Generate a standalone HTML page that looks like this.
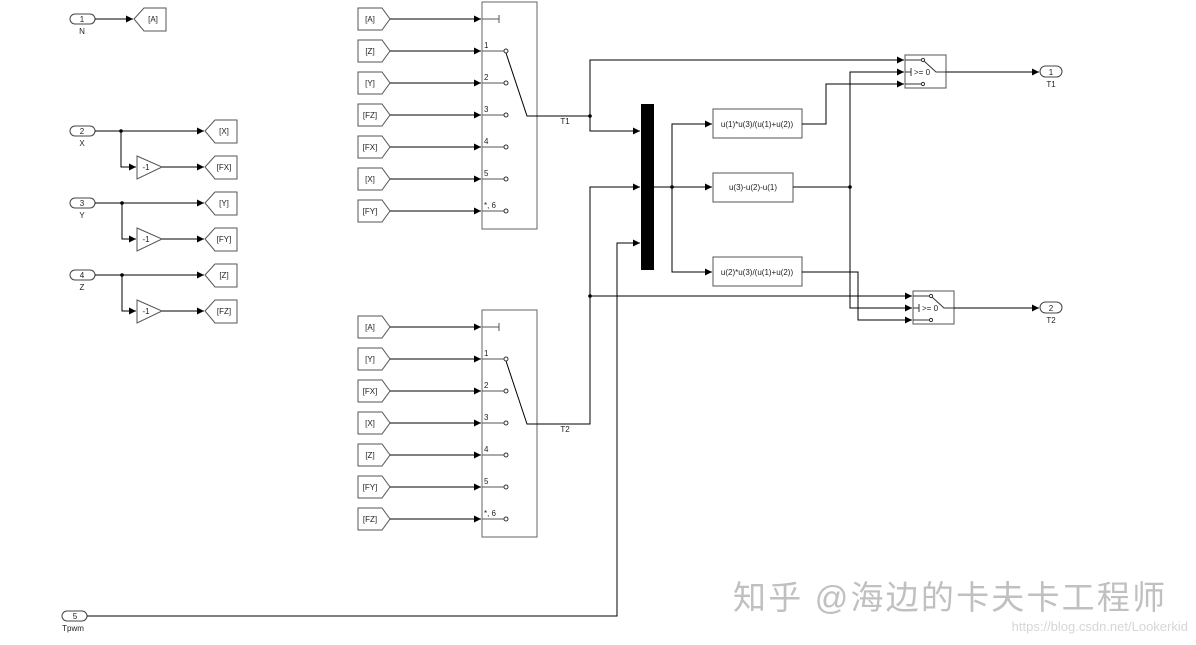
<!DOCTYPE html>
<html><head><meta charset="utf-8"><style>
html,body{margin:0;padding:0;background:#fff;}
svg{display:block;}
text{font-family:"Liberation Sans",sans-serif;font-size:8px;fill:#222;}
</style></head><body>
<svg width="1196" height="645" viewBox="0 0 1196 645" xmlns="http://www.w3.org/2000/svg">
<defs>
<marker id="a" markerWidth="8" markerHeight="8" refX="7" refY="3.5" orient="auto" markerUnits="userSpaceOnUse"><path d="M0,0 L7,3.5 L0,7 z" fill="#000"/></marker>
</defs>
<g fill="none" stroke="#000" stroke-width="1">
<rect x="70" y="14" width="25" height="10" rx="5" stroke="#444"/>
<rect x="70" y="126" width="25" height="10" rx="5" stroke="#444"/>
<rect x="70" y="198" width="25" height="10" rx="5" stroke="#444"/>
<rect x="70" y="270" width="25" height="10" rx="5" stroke="#444"/>
<rect x="62" y="611" width="25" height="10" rx="5" stroke="#444"/>
<path d="M134,19 L144,8 L166,8 L166,31 L144,31 Z" stroke="#555"/>
<path d="M205,131 L215,120 L237,120 L237,143 L215,143 Z" stroke="#555"/>
<path d="M205,167 L215,156 L237,156 L237,179 L215,179 Z" stroke="#555"/>
<path d="M205,203 L215,192 L237,192 L237,215 L215,215 Z" stroke="#555"/>
<path d="M205,239 L215,228 L237,228 L237,251 L215,251 Z" stroke="#555"/>
<path d="M205,275 L215,264 L237,264 L237,287 L215,287 Z" stroke="#555"/>
<path d="M205,311 L215,300 L237,300 L237,323 L215,323 Z" stroke="#555"/>
<path d="M137,156 L162,167 L137,179 Z" stroke="#555"/>
<path d="M137,228 L162,239 L137,251 Z" stroke="#555"/>
<path d="M137,300 L162,311 L137,323 Z" stroke="#555"/>
<path d="M95,19 H133" marker-end="url(#a)"/>
<path d="M95,131 H204" marker-end="url(#a)"/><path d="M121,131 V167 H136" marker-end="url(#a)"/><path d="M162,167 H204" marker-end="url(#a)"/>
<path d="M95,203 H204" marker-end="url(#a)"/><path d="M122,203 V239 H136" marker-end="url(#a)"/><path d="M162,239 H204" marker-end="url(#a)"/>
<path d="M95,275 H204" marker-end="url(#a)"/><path d="M122,275 V311 H136" marker-end="url(#a)"/><path d="M162,311 H204" marker-end="url(#a)"/>
<g stroke="#555">
<path d="M358,8 H382 L390,19 L382,30 H358 Z"/><path d="M358,40 H382 L390,51 L382,62 H358 Z"/><path d="M358,72 H382 L390,83 L382,94 H358 Z"/><path d="M358,104 H382 L390,115 L382,126 H358 Z"/><path d="M358,136 H382 L390,147 L382,158 H358 Z"/><path d="M358,168 H382 L390,179 L382,190 H358 Z"/><path d="M358,200 H382 L390,211 L382,222 H358 Z"/>
<path d="M358,316 H382 L390,327 L382,338 H358 Z"/><path d="M358,348 H382 L390,359 L382,370 H358 Z"/><path d="M358,380 H382 L390,391 L382,402 H358 Z"/><path d="M358,412 H382 L390,423 L382,434 H358 Z"/><path d="M358,444 H382 L390,455 L382,466 H358 Z"/><path d="M358,476 H382 L390,487 L382,498 H358 Z"/><path d="M358,508 H382 L390,519 L382,530 H358 Z"/>
</g>
<path d="M390,19 H481" marker-end="url(#a)"/><path d="M390,51 H481" marker-end="url(#a)"/><path d="M390,83 H481" marker-end="url(#a)"/><path d="M390,115 H481" marker-end="url(#a)"/><path d="M390,147 H481" marker-end="url(#a)"/><path d="M390,179 H481" marker-end="url(#a)"/><path d="M390,211 H481" marker-end="url(#a)"/>
<path d="M390,327 H481" marker-end="url(#a)"/><path d="M390,359 H481" marker-end="url(#a)"/><path d="M390,391 H481" marker-end="url(#a)"/><path d="M390,423 H481" marker-end="url(#a)"/><path d="M390,455 H481" marker-end="url(#a)"/><path d="M390,487 H481" marker-end="url(#a)"/><path d="M390,519 H481" marker-end="url(#a)"/>
<rect x="482" y="2" width="55" height="227" stroke="#666"/>
<rect x="482" y="310" width="55" height="227" stroke="#666"/>
<g stroke="#555">
<path d="M482,19 H499 M499,15 V23"/>
<path d="M482,51 H504 M482,83 H504 M482,115 H504 M482,147 H504 M482,179 H504 M482,211 H504"/>
<path d="M482,327 H499 M499,323 V331"/>
<path d="M482,359 H504 M482,391 H504 M482,423 H504 M482,455 H504 M482,487 H504 M482,519 H504"/>
</g>
<g stroke="#333">
<circle cx="506" cy="51" r="2"/><circle cx="506" cy="83" r="2"/><circle cx="506" cy="115" r="2"/><circle cx="506" cy="147" r="2"/><circle cx="506" cy="179" r="2"/><circle cx="506" cy="211" r="2"/>
<circle cx="506" cy="359" r="2"/><circle cx="506" cy="391" r="2"/><circle cx="506" cy="423" r="2"/><circle cx="506" cy="455" r="2"/><circle cx="506" cy="487" r="2"/><circle cx="506" cy="519" r="2"/>
</g>
<path d="M506,53 L527,116 H537"/>
<path d="M506,361 L527,424 H537"/>
<path d="M537,116 H590 V60 H904" marker-end="url(#a)"/>
<path d="M590,116 V131 H640" marker-end="url(#a)"/>
<path d="M537,424 H590 V187 H640" marker-end="url(#a)"/>
<path d="M590,296 H912" marker-end="url(#a)"/>
<path d="M87,616 H617 V243 H640" marker-end="url(#a)"/>
<path d="M654,187 H712" marker-end="url(#a)"/>
<path d="M672,187 V124 H712" marker-end="url(#a)"/>
<path d="M672,187 V272 H712" marker-end="url(#a)"/>
<rect x="713" y="109" width="89" height="29" stroke="#555"/>
<rect x="713" y="173" width="80" height="29" stroke="#555"/>
<rect x="713" y="257" width="89" height="29" stroke="#555"/>
<path d="M802,124 H826 V84 H904" marker-end="url(#a)"/>
<path d="M793,187 H850 V72 H904" marker-end="url(#a)"/>
<path d="M850,187 V308 H912" marker-end="url(#a)"/>
<path d="M802,272 H858 V320 H912" marker-end="url(#a)"/>
<rect x="905" y="55" width="41" height="33" stroke="#555"/>
<rect x="913" y="291" width="41" height="33" stroke="#555"/>
<g stroke="#333">
<path d="M905,60 H921 M905,84 H921 M905,72 H911 M911,68 V76"/>
<circle cx="923" cy="60" r="1.6"/><circle cx="923" cy="84" r="1.6"/>
<path d="M924,61 L936,72 H946"/>
<path d="M913,296 H929 M913,320 H929 M913,308 H919 M919,304 V312"/>
<circle cx="931" cy="296" r="1.6"/><circle cx="931" cy="320" r="1.6"/>
<path d="M932,297 L944,308 H954"/>
</g>
<path d="M946,72 H1039" marker-end="url(#a)"/>
<path d="M954,308 H1039" marker-end="url(#a)"/>
<rect x="1040" y="66" width="22" height="11" rx="5.5" stroke="#444"/>
<rect x="1040" y="302" width="22" height="11" rx="5.5" stroke="#444"/>
</g>
<rect x="641" y="104" width="13" height="166" fill="#000"/>
<g fill="#000">
<circle cx="121" cy="131" r="1.8"/><circle cx="122" cy="203" r="1.8"/><circle cx="122" cy="275" r="1.8"/>
<circle cx="590" cy="116" r="1.8"/><circle cx="590" cy="296" r="1.8"/><circle cx="672" cy="187" r="1.8"/><circle cx="850" cy="187" r="1.8"/>
</g>
<g text-anchor="middle">
<text x="82" y="22">1</text><text x="82" y="34">N</text>
<text x="82" y="134">2</text><text x="82" y="146">X</text>
<text x="82" y="206">3</text><text x="82" y="218">Y</text>
<text x="82" y="278">4</text><text x="82" y="290">Z</text>
<text x="75" y="619">5</text><text x="73" y="631">Tpwm</text>
<text x="153" y="22">[A]</text>
<text x="224" y="134">[X]</text><text x="224" y="170">[FX]</text><text x="224" y="206">[Y]</text><text x="224" y="242">[FY]</text><text x="224" y="278">[Z]</text><text x="224" y="314">[FZ]</text>
<text x="146" y="170">-1</text><text x="146" y="242">-1</text><text x="146" y="314">-1</text>
<text x="370" y="22">[A]</text><text x="370" y="54">[Z]</text><text x="370" y="86">[Y]</text><text x="370" y="118">[FZ]</text><text x="370" y="150">[FX]</text><text x="370" y="182">[X]</text><text x="370" y="214">[FY]</text>
<text x="370" y="330">[A]</text><text x="370" y="362">[Y]</text><text x="370" y="394">[FX]</text><text x="370" y="426">[X]</text><text x="370" y="458">[Z]</text><text x="370" y="490">[FY]</text><text x="370" y="522">[FZ]</text>
<text x="565" y="124">T1</text><text x="565" y="432">T2</text>
<text x="757" y="127">u(1)*u(3)/(u(1)+u(2))</text>
<text x="753" y="190">u(3)-u(2)-u(1)</text>
<text x="757" y="275">u(2)*u(3)/(u(1)+u(2))</text>
<text x="1051" y="75">1</text><text x="1051" y="87">T1</text>
<text x="1051" y="311">2</text><text x="1051" y="323">T2</text>
</g>
<g font-size="7">
<text x="484" y="48">1</text><text x="484" y="80">2</text><text x="484" y="112">3</text><text x="484" y="144">4</text><text x="484" y="176">5</text><text x="484" y="208">*, 6</text>
<text x="484" y="356">1</text><text x="484" y="388">2</text><text x="484" y="420">3</text><text x="484" y="452">4</text><text x="484" y="484">5</text><text x="484" y="516">*, 6</text>
<text x="914" y="75">&gt;= 0</text><text x="922" y="311">&gt;= 0</text>
</g>
<text x="733" y="609" style="font-family:'Liberation Sans','Noto Sans CJK SC',sans-serif;font-size:33px;letter-spacing:2.2px;fill:#c0c0c0">知乎 @海边的卡夫卡工程师</text>
<text x="1188" y="631" text-anchor="end" style="font-size:13px;fill:#d6d6d6">https://blog.csdn.net/Lookerkid</text>
</svg>
</body></html>
